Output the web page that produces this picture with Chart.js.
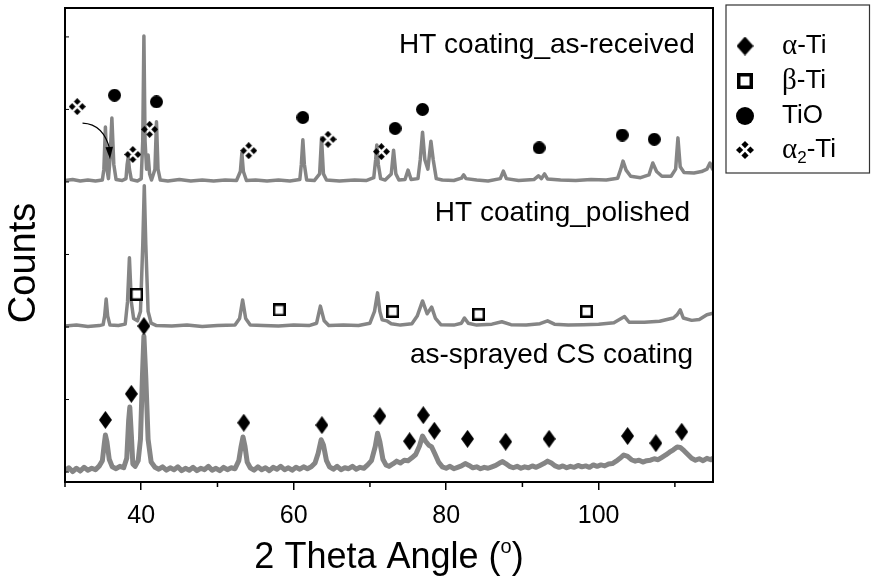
<!DOCTYPE html>
<html>
<head>
<meta charset="utf-8">
<script src="https://cdn.jsdelivr.net/npm/chart.js@4"></script>
<style>
  html, body { margin: 0; padding: 0; background: #fff; }
  #chart { display: block; }
</style>
</head>
<body>
<canvas id="chart" width="871" height="584"></canvas>
<script>
// axis range and ticks (2 theta, degrees)
const xMin = 30, xMax = 115;
const xMajorTicks = [40, 60, 80, 100];
const xMinorTicks = [30, 50, 70, 90, 110];
const yTicks = [2.1, 17.4, 32.7, 48, 63.3, 78.6, 93.9];

const traceLabels = ['HT coating_as-received', 'HT coating_polished', 'as-sprayed CS coating'];
const phaseLabels = ['α-Ti', 'β-Ti', 'TiO', 'α2-Ti'];

// patterns, [2theta, counts (offset, arbitrary units)]
const asReceived = [
  [30, 63.6], [31, 63.8], [32, 63.5], [33, 63.7], [34, 63.5], [34.9, 63.7], [35.1, 66], [35.3, 74.9],
  [35.5, 66], [35.7, 64], [35.9, 68], [36.15, 76.8], [36.4, 67], [36.7, 63.8], [37.5, 63.6], [38.0, 64],
  [38.15, 67], [38.3, 68.6], [38.45, 66], [38.7, 63.8], [39.5, 63.5], [40.0, 64], [40.2, 72], [40.35, 94.1],
  [40.5, 72], [40.7, 66], [40.9, 69], [41.1, 65], [41.35, 63.7], [41.8, 66], [42.0, 76], [42.2, 66],
  [42.5, 63.7], [43.5, 63.5], [45, 63.8], [46.5, 63.5], [48, 63.7], [49.5, 63.5], [51, 63.7], [52.5, 63.6],
  [53.0, 65.5], [53.2, 69.4], [53.4, 65.5], [53.8, 63.6], [55, 63.7], [56.5, 63.5], [58, 63.7], [59.5, 63.5],
  [60.8, 63.8], [61.0, 67], [61.2, 72.2], [61.4, 67], [61.7, 63.7], [62.7, 63.6], [63.4, 65], [63.65, 72.6],
  [63.9, 65], [64.3, 63.7], [66, 63.5], [68, 63.7], [69.5, 63.6], [70.5, 64.2], [70.75, 68], [70.9, 71.1],
  [71.1, 67], [71.4, 64], [72.0, 63.7], [72.8, 65], [73.1, 70], [73.4, 65], [73.8, 63.7], [74.6, 63.8],
  [75.0, 65.8], [75.4, 63.8], [76.3, 64], [76.6, 68], [76.9, 73.8], [77.2, 68], [77.6, 66], [78.0, 71.9],
  [78.3, 68], [78.7, 64], [79.5, 63.7], [81, 63.6], [82.0, 64.1], [82.3, 64.8], [82.6, 64.0], [84, 63.7],
  [85.5, 63.5], [87.1, 64], [87.5, 65.6], [87.9, 64], [89.5, 63.6], [91.5, 63.8], [92.1, 64.6], [92.5, 64.0],
  [92.9, 65], [93.3, 63.9], [95, 63.7], [97, 63.6], [99, 63.8], [101, 63.7], [102.5, 64.1], [102.9, 66],
  [103.2, 67.7], [103.6, 65.8], [104.2, 64.5], [105.5, 64.2], [106.6, 64.8], [107.1, 67.3], [107.6, 65.5],
  [108.3, 64.5], [109.5, 64.5], [110.1, 66], [110.4, 72.6], [110.7, 66.5], [111.2, 65.3], [112.5, 65.2],
  [113.5, 65.5], [114.2, 66], [114.6, 67.3], [115, 65.8]
];

const polished = [
  [30, 32.9], [31.5, 33.1], [33, 32.8], [34.5, 33.0], [35.0, 33.2], [35.2, 35], [35.4, 38.6], [35.6, 35],
  [35.9, 33.1], [37, 33.0], [37.9, 33.3], [38.2, 38], [38.45, 47.3], [38.7, 38], [39.0, 34.5], [39.5, 34],
  [39.9, 36], [40.2, 50], [40.4, 62.5], [40.6, 50], [40.9, 36], [41.3, 33.5], [42, 33.0], [44, 32.9],
  [46, 33.1], [48, 32.8], [50, 33.0], [52.3, 33.1], [52.9, 34.5], [53.3, 38.4], [53.7, 34.5], [54.3, 33.1],
  [56, 33.0], [58, 32.9], [60, 33.1], [62, 33.0], [63.0, 33.5], [63.5, 37.1], [64.0, 34], [64.6, 33.0],
  [66.5, 33.1], [68.5, 33.0], [70.0, 33.5], [70.6, 36], [71.0, 39.9], [71.3, 36], [71.6, 34.2], [72.2, 34],
  [72.8, 33.4], [74, 33.1], [75.5, 33.4], [76.2, 35], [76.9, 38.2], [77.5, 35.5], [78.1, 36.9], [78.6, 34.5],
  [79.3, 33.2], [81, 33.1], [82.0, 33.5], [82.4, 34.6], [82.9, 33.5], [84, 33.1], [86, 33.3], [87.3, 33.8],
  [88.5, 33.2], [90.5, 33.1], [92.3, 33.4], [93.3, 34.0], [94.2, 33.3], [96, 33.1], [98, 33.2], [100, 33.3],
  [102, 33.6], [103.4, 34.9], [104, 33.7], [106, 33.7], [108, 33.9], [109.8, 34.6], [110.3, 35.3],
  [110.7, 36.3], [111.1, 34.6], [112.2, 34.1], [113.2, 34.3], [114.2, 35.3], [115, 35.6]
];

const asSprayed = [
  [30, 2.4], [30.5, 3.0], [31, 2.2], [31.5, 2.9], [32, 2.3], [32.5, 3.1], [33, 2.5], [33.5, 2.9], [34, 2.6],
  [34.5, 3.4], [34.9, 4.5], [35.15, 8], [35.3, 9.9], [35.5, 8.5], [35.8, 4.8], [36.2, 3.2], [36.7, 2.8],
  [37.2, 3.3], [37.7, 3.0], [38.1, 5], [38.35, 13], [38.5, 15.8], [38.7, 10], [38.9, 3.8], [39.2, 3.3],
  [39.6, 4.5], [39.9, 9], [40.15, 22], [40.35, 30.8], [40.6, 22], [40.9, 9], [41.3, 4.2], [41.8, 3.1],
  [42.3, 2.7], [42.8, 3.2], [43.3, 2.5], [43.8, 3.0], [44.3, 2.6], [44.8, 3.2], [45.3, 2.4], [45.8, 2.9],
  [46.3, 2.5], [46.8, 3.1], [47.3, 2.4], [47.8, 2.9], [48.3, 2.6], [48.8, 3.3], [49.3, 2.5], [49.8, 2.9],
  [50.3, 2.4], [50.8, 3.1], [51.3, 2.6], [51.8, 3.0], [52.3, 2.8], [52.8, 4.5], [53.1, 7.5], [53.35, 9.5],
  [53.6, 7.6], [53.9, 4.2], [54.3, 3.0], [54.8, 2.5], [55.3, 3.2], [55.8, 2.6], [56.3, 3.0], [56.8, 2.4],
  [57.3, 3.1], [57.8, 2.7], [58.3, 3.3], [58.8, 2.6], [59.3, 3.0], [59.8, 2.5], [60.3, 3.1], [60.8, 2.7],
  [61.3, 3.2], [61.8, 2.8], [62.3, 3.2], [62.8, 4.0], [63.2, 6], [63.6, 8.9], [63.9, 7.8], [64.3, 4.5],
  [64.7, 3.2], [65.2, 2.7], [65.7, 3.3], [66.2, 2.6], [66.7, 3.0], [67.2, 2.8], [67.7, 3.3], [68.2, 2.7],
  [68.7, 3.1], [69.2, 2.9], [69.7, 3.6], [70.2, 4.5], [70.7, 7.5], [71.0, 10.3], [71.3, 8.5], [71.7, 4.8],
  [72.1, 3.6], [72.5, 3.3], [73.0, 3.8], [73.5, 4.4], [74.0, 4.0], [74.5, 4.6], [75.0, 4.5], [75.5, 5.1],
  [76.0, 5.8], [76.5, 7.6], [76.9, 9.7], [77.3, 8.6], [77.7, 7.8], [78.1, 7.4], [78.5, 6.0], [79.0, 4.2],
  [79.5, 3.2], [80.0, 2.9], [80.5, 3.3], [81.0, 2.8], [81.5, 3.1], [82.0, 3.4], [82.5, 3.9], [83.0, 3.5],
  [83.5, 3.0], [84.0, 3.2], [84.5, 2.8], [85.0, 3.1], [85.5, 2.9], [86.0, 3.2], [86.5, 3.5], [87.0, 4.0],
  [87.4, 4.3], [87.8, 3.9], [88.3, 3.3], [88.8, 3.0], [89.3, 3.3], [89.8, 2.9], [90.3, 3.2], [90.8, 3.0],
  [91.3, 3.4], [91.8, 3.1], [92.3, 3.5], [92.8, 3.9], [93.3, 4.4], [93.8, 4.0], [94.3, 3.4], [94.8, 3.1],
  [95.3, 3.4], [95.8, 3.0], [96.3, 3.3], [96.8, 3.1], [97.3, 3.5], [97.8, 3.2], [98.3, 3.4], [98.8, 3.1],
  [99.3, 3.6], [99.8, 3.3], [100.3, 3.6], [100.8, 3.4], [101.3, 3.8], [101.8, 3.9], [102.3, 4.4], [102.8, 5.0],
  [103.3, 5.7], [103.8, 5.4], [104.3, 4.7], [104.8, 4.4], [105.3, 4.6], [105.8, 4.2], [106.3, 4.5],
  [106.8, 4.6], [107.3, 4.9], [107.8, 4.7], [108.3, 5.2], [108.8, 5.7], [109.3, 6.3], [109.8, 6.8],
  [110.3, 7.4], [110.7, 7.3], [111.2, 6.6], [111.7, 5.8], [112.2, 5.0], [112.7, 4.6], [113.2, 4.9],
  [113.7, 4.5], [114.2, 5.0], [114.7, 4.7], [115, 5.1]
];

// phase markers, [2theta, height]
const alphaTi = [[35.3, 13.1], [38.7, 18.6], [40.35, 32.9], [53.45, 12.5], [63.7, 12.0], [71.3, 13.9],
  [75.2, 8.6], [77.0, 14.1], [78.45, 10.8], [82.8, 9.1], [87.8, 8.5], [93.5, 9.1], [103.8, 9.7],
  [107.5, 8.2], [110.9, 10.6]];
const betaTi = [[39.4, 39.6], [58.1, 36.3], [73.0, 36.0], [84.25, 35.4], [98.4, 36.0]];
const tiO = [[36.5, 81.6], [42.0, 80.2], [61.2, 76.9], [73.3, 74.6], [76.9, 78.6], [92.2, 70.5],
  [103.1, 73.2], [107.3, 72.3]];
const alpha2Ti = [[31.6, 79.2], [38.9, 69.1], [41.1, 74.4], [54.1, 69.9], [64.5, 72.3], [71.5, 69.7]];

const SANS = '"Liberation Sans", Arial, sans-serif';
const SERIF = '"Liberation Serif", "Times New Roman", serif';

function symbolCanvas(w, h, draw) {
  const c = document.createElement('canvas');
  c.width = w; c.height = h;
  draw(c.getContext('2d'), w, h);
  return c;
}
const diamond = (w, h) => symbolCanvas(w, h, (g) => {
  g.fillStyle = '#000';
  g.beginPath();
  g.moveTo(w / 2, 0); g.lineTo(w, h / 2); g.lineTo(w / 2, h); g.lineTo(0, h / 2);
  g.closePath(); g.fill();
});
const square = (s, lw) => symbolCanvas(s, s, (g) => {
  g.fillStyle = '#fff'; g.fillRect(0, 0, s, s);
  g.strokeStyle = '#000'; g.lineWidth = lw;
  g.strokeRect(lw / 2, lw / 2, s - lw, s - lw);
});
const dot = (d) => symbolCanvas(d, d, (g) => {
  g.fillStyle = '#000';
  g.beginPath(); g.arc(d / 2, d / 2, d / 2, 0, Math.PI * 2); g.fill();
});
const quad = (s) => symbolCanvas(s, s, (g) => {
  const r = s * 0.2, c = s / 2;
  g.fillStyle = '#000';
  [[c, r], [r, c], [s - r, c], [c, s - r]].forEach(([x, y]) => {
    g.beginPath();
    g.moveTo(x, y - r); g.lineTo(x + r, y); g.lineTo(x, y + r); g.lineTo(x - r, y);
    g.closePath(); g.fill();
  });
});

const markStyles = [diamond(13, 18), square(13, 2.5), dot(13), quad(17)];
const legendStyles = [diamond(17, 19), square(16, 3.5), dot(18), quad(18)];

const toXY = (pts) => pts.map(([x, y]) => ({ x, y }));
function traceSet(label, pts, width) {
  const data = toXY(pts);
  return { label, data, showLine: true, borderColor: '#858585', borderWidth: width,
    borderJoinStyle: 'round', pointRadius: 0, tension: 0, order: 2 };
}
function markSet(label, pts, style) {
  const data = toXY(pts);
  return { label, data, pointStyle: style, pointRadius: 7, order: 1 };
}

function line(ctx, x1, y1, x2, y2) {
  ctx.beginPath(); ctx.moveTo(x1, y1); ctx.lineTo(x2, y2); ctx.stroke();
}

// text pieces drawn one after another: [text, font, dy]
function drawPieces(ctx, x, y, pieces) {
  pieces.forEach(([t, font, dy]) => {
    ctx.font = font;
    ctx.fillText(t, x, y + dy);
    x += ctx.measureText(t).width;
  });
  return x;
}

const decor = {
  id: 'decor',
  afterDraw(chart) {
    const { ctx, chartArea: a, scales: { x, y } } = chart;
    ctx.save();
    ctx.strokeStyle = '#000';
    ctx.fillStyle = '#000';

    // frame
    ctx.lineWidth = 2;
    ctx.strokeRect(a.left, a.top, a.right - a.left, a.bottom - a.top);

    // minor ticks
    ctx.lineWidth = 1.5;
    xMinorTicks.forEach(v => { const px = x.getPixelForValue(v); line(ctx, px, a.bottom, px, a.bottom + 5); });
    ctx.lineWidth = 1;
    yTicks.forEach(v => { const py = y.getPixelForValue(v); line(ctx, a.left, py, a.left + 4, py); });

    // arrow to the alpha2 peak
    const p0 = [x.getPixelForValue(32.3), y.getPixelForValue(75.7)];
    const pc = [x.getPixelForValue(35.1), y.getPixelForValue(75.5)];
    const p1 = [x.getPixelForValue(35.9), y.getPixelForValue(68.1)];
    ctx.lineWidth = 1.2;
    ctx.beginPath(); ctx.moveTo(p0[0], p0[1]);
    ctx.quadraticCurveTo(pc[0], pc[1], p1[0], p1[1] - 9);
    ctx.stroke();
    ctx.beginPath();
    ctx.moveTo(p1[0], p1[1]); ctx.lineTo(p1[0] - 4.5, p1[1] - 12); ctx.lineTo(p1[0] + 3, p1[1] - 12.5);
    ctx.closePath(); ctx.fill();

    // trace names
    ctx.font = '28px ' + SANS;
    ctx.textAlign = 'right';
    ctx.textBaseline = 'alphabetic';
    ctx.fillText(traceLabels[0], x.getPixelForValue(112.6), 53);
    ctx.fillText(traceLabels[1], x.getPixelForValue(112.0), 221);
    ctx.fillText(traceLabels[2], x.getPixelForValue(112.4), 363);

    // x title with superscript
    ctx.textAlign = 'left';
    const main = '2 Theta Angle (';
    ctx.font = '36px ' + SANS;
    const w1 = ctx.measureText(main).width;
    const w3 = ctx.measureText(')').width;
    ctx.font = '20px ' + SANS;
    const w2 = ctx.measureText('o').width;
    const tx = (a.left + a.right) / 2 - (w1 + w2 + w3) / 2;
    drawPieces(ctx, tx, 568, [[main, '36px ' + SANS, 0], ['o', '20px ' + SANS, -15], [')', '36px ' + SANS, 0]]);

    // y title
    ctx.save();
    ctx.translate(25, 263);
    ctx.rotate(-Math.PI / 2);
    ctx.font = '38px ' + SANS;
    ctx.textAlign = 'center';
    ctx.textBaseline = 'middle';
    ctx.fillText('Counts', 0, 0);
    ctx.restore();

    // legend box
    ctx.strokeStyle = '#333';
    ctx.lineWidth = 1.2;
    ctx.strokeRect(726, 5, 143.5, 168);
    const rows = [46, 81, 116, 150];
    const sx = 745, tx0 = 782;
    const sans = '26px ' + SANS, greek = '29px ' + SERIF;
    const texts = [
      [['α', greek, 0], ['-Ti', sans, 0]],
      [['β', greek, 0], ['-Ti', sans, 0]],
      [[phaseLabels[2], sans, 0]],
      [['α', greek, 0], ['2', '17px ' + SANS, 8], ['-Ti', sans, 0]]
    ];
    ctx.textBaseline = 'middle';
    ctx.textAlign = 'left';
    rows.forEach((ry, i) => {
      const c = legendStyles[i];
      ctx.drawImage(c, sx - c.width / 2, ry - c.height / 2);
      drawPieces(ctx, tx0, ry, texts[i]);
    });
    ctx.restore();
  }
};

const datasets = [
  traceSet(traceLabels[0], asReceived, 3.5),
  traceSet(traceLabels[1], polished, 3.5),
  traceSet(traceLabels[2], asSprayed, 5),
  markSet(phaseLabels[0], alphaTi, markStyles[0]),
  markSet(phaseLabels[1], betaTi, markStyles[1]),
  markSet(phaseLabels[2], tiO, markStyles[2]),
  markSet(phaseLabels[3], alpha2Ti, markStyles[3])
];
const chartData = { datasets };

new Chart(document.getElementById('chart'), {
  type: 'scatter',
  ['data']: chartData,
  options: {
    responsive: false,
    animation: false,
    devicePixelRatio: 1,
    layout: { padding: { left: 65, top: 8, right: 158, bottom: 0 } },
    scales: {
      x: {
        type: 'linear', min: xMin, max: xMax,
        afterBuildTicks: (s) => { s.ticks = xMajorTicks.map(v => ({ value: v })); },
        afterFit: (s) => { s.height = 102; },
        grid: { drawOnChartArea: false, tickLength: 8, color: '#000', lineWidth: 1.5 },
        border: { display: false },
        ticks: { color: '#000', font: { family: SANS, size: 25 }, padding: 11, maxRotation: 0 }
      },
      y: { type: 'linear', min: 0, max: 100, display: false }
    },
    plugins: { legend: { display: false }, tooltip: { enabled: false } }
  },
  plugins: [decor]
});
</script>
</body>
</html>
